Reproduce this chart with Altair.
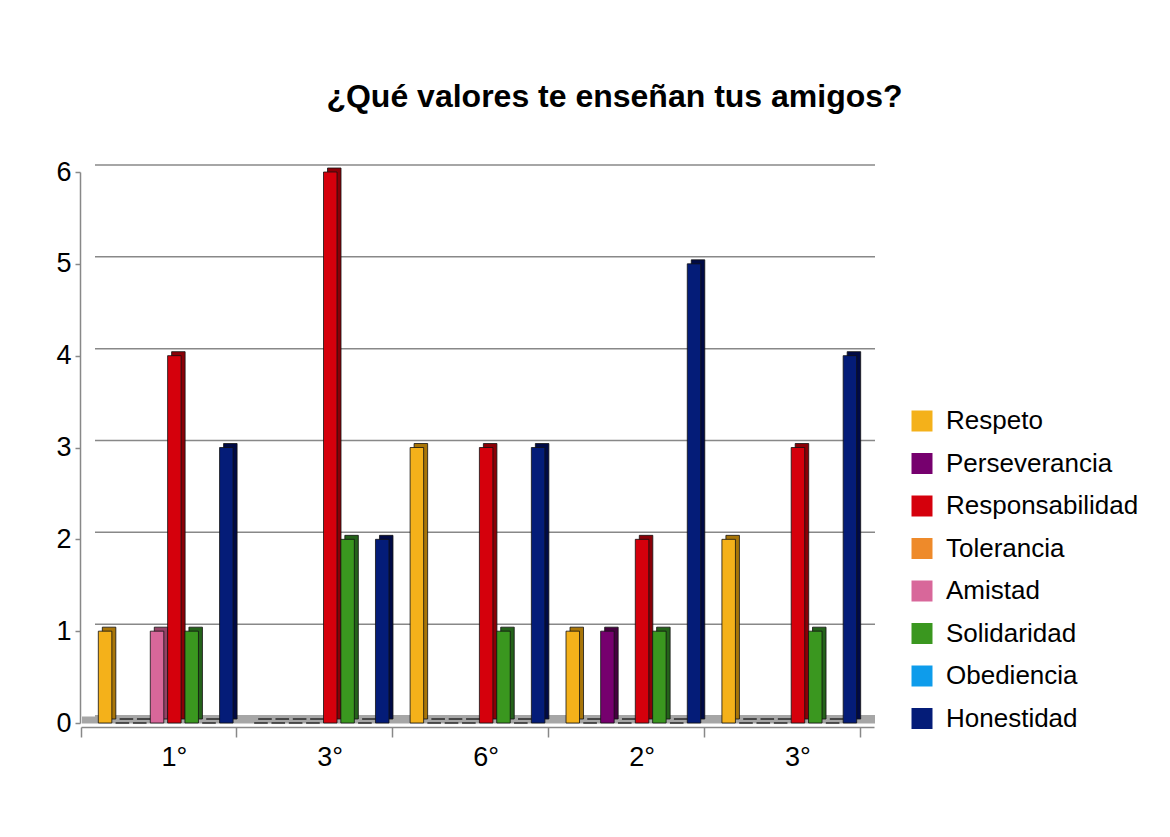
import altair as alt
import pandas as pd

categories = ["1°", "3°", "6°", "2°", "3°"]
series = ["Respeto", "Perseverancia", "Responsabilidad", "Tolerancia",
          "Amistad", "Solidaridad", "Obediencia", "Honestidad"]
slot_order = ["Respeto", "Tolerancia", "Perseverancia", "Amistad",
              "Responsabilidad", "Solidaridad", "Obediencia", "Honestidad"]
respeto = [1, 0, 3, 1, 2]
perseverancia = [0, 0, 0, 1, 0]
responsabilidad = [4, 6, 3, 2, 3]
tolerancia = [0, 0, 0, 0, 0]
amistad = [1, 0, 0, 0, 0]
solidaridad = [1, 2, 1, 1, 1]
obediencia = [0, 0, 0, 0, 0]
honestidad = [3, 2, 3, 5, 4]
y_ticks = [0, 1, 2, 3, 4, 5, 6]

front_colors = ["#F4B11A", "#76006E", "#D5000C", "#EE8A2A",
                "#D8679A", "#3A971F", "#0E9CEB", "#041C78"]
side_colors = ["#A87508", "#45003F", "#8A0007", "#A45E18",
               "#944266", "#24621A", "#08679E", "#000A45"]

values_by_series = [respeto, perseverancia, responsabilidad, tolerancia,
                    amistad, solidaridad, obediencia, honestidad]

domain = []
for g in range(len(categories)):
    domain.append(f"{g}-g")
    domain.extend(f"{g}-{k}" for k in range(len(slot_order)))
domain.append("end-g")
gap_keys = [f"{g}-g" for g in range(len(categories))] + ["end-g"]

rows = []
for s, vals, dark in zip(series, values_by_series, side_colors):
    k = slot_order.index(s)
    for gi, v in enumerate(vals):
        rows.append({"key": f"{gi}-{k}", "series": s, "value": v, "dark": dark})
df = pd.DataFrame(rows)
grid_df = pd.DataFrame({"value": y_ticks})
floor_df = pd.DataFrame({"value": [0]})
label_df = pd.DataFrame({"key": [f"{g}-4" for g in range(len(categories))],
                         "label": categories})

FONT = "Liberation Sans"

x_scale = alt.Scale(domain=domain, paddingInner=0.22, paddingOuter=0)
x_axis = alt.Axis(values=gap_keys, labels=False, bandPosition=0,
                  tickSize=10, tickColor="#888", tickWidth=1.5,
                  domainColor="#888", domainWidth=1.5, offset=4, grid=False)
x_enc = alt.X("key:N", title=None, scale=x_scale, axis=x_axis)
y_scale = alt.Scale(domain=[0, 6], nice=False)
y_axis = alt.Axis(values=y_ticks, labelFontSize=27, labelFont=FONT,
                  labelColor="#000", tickSize=5, tickColor="#888",
                  tickWidth=1.5, domainColor="#888", domainWidth=1.5,
                  offset=1, labelPadding=4, grid=False)
y_enc = alt.Y("value:Q", scale=y_scale, title=None, axis=y_axis)

base = alt.Chart(df)

side = base.mark_bar(xOffset=4, yOffset=-4, stroke="#111", strokeWidth=0.8).encode(
    x=x_enc,
    y=y_enc,
    fill=alt.Fill("dark:N", scale=None),
)

front = base.mark_bar(stroke="#111", strokeWidth=0.8).encode(
    x=x_enc,
    y=y_enc,
    color=alt.Color("series:N", scale=alt.Scale(domain=series, range=front_colors),
                    legend=alt.Legend(title=None, orient="none", legendX=828,
                                      legendY=236, symbolType="square",
                                      symbolSize=441, symbolStrokeWidth=0,
                                      symbolOpacity=1, labelFontSize=26,
                                      labelFont=FONT, labelColor="#000",
                                      labelOffset=11, rowPadding=16.5,
                                      labelLimit=400, padding=0)),
)

cat_labels = alt.Chart(label_df).mark_text(
    fontSize=27, font=FONT, color="#000", baseline="middle").encode(
    x=alt.X("key:N", scale=x_scale, title=None, axis=x_axis),
    y=alt.value(586),
    text="label:N",
)

grid = alt.Chart(grid_df).mark_rule(color="#888", strokeWidth=1.5, yOffset=-7).encode(
    y=y_enc,
    x=alt.value(14), x2=alt.value(794),
)
floor = alt.Chart(floor_df).mark_rule(
    color="#A6A6A6", strokeWidth=7, yOffset=-3).encode(
    y=y_enc,
    x=alt.value(1), x2=alt.value(794),
)

chart = alt.layer(grid, floor, side, front, cat_labels).properties(
    width=793, height=551,
    title=alt.TitleParams("¿Qué valores te enseñan tus amigos?", fontSize=32,
                          font=FONT, fontWeight="bold", color="#000",
                          anchor="middle", dx=137, offset=44),
    autosize=alt.AutoSizeParams(type="none"),
    padding={"left": 73, "top": 164, "right": 284, "bottom": 100},
).configure_view(stroke=None)

chart.save("out.html", embed_options={"renderer": "svg", "actions": False})
